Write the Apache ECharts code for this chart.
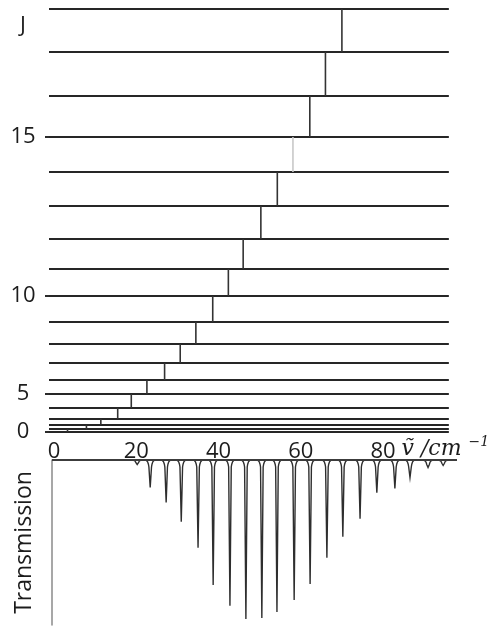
<!DOCTYPE html>
<html>
<head>
<meta charset="utf-8">
<script src="https://cdn.jsdelivr.net/npm/echarts@6/dist/echarts.min.js"></script>
<style>
html,body{margin:0;padding:0;background:#ffffff;}
#chart{width:494px;height:640px;}
</style>
</head>
<body>
<div id="chart"></div>
<script>
// Rotational energy levels (cm^-1), J = 0..18
const levelEnergies = [0, 4.5, 11.5, 20.5, 37.5, 59, 80.7, 107, 136.6, 170.7, 211, 253, 299.5, 350.8, 403.5, 458, 521.5, 590, 656.5];
// Transition wavenumbers J -> J+1 (cm^-1)
const transitionNu = [3.3, 7.9, 11.4, 15.5, 18.8, 22.6, 26.9, 30.7, 34.5, 38.6, 42.4, 46.0, 50.3, 54.3, 58.1, 62.2, 66.0, 70.0];
// Absorption lines of the spectrum
const peakNu = [19.8, 22.9, 26.7, 30.3, 34.3, 37.9, 41.9, 45.7, 49.5, 53.1, 57.2, 61.0, 65.0, 68.8, 72.9, 76.9, 81.2, 84.8, 89.1, 92.7];
const peakTransmission = [97.3, 83.3, 74.2, 62.6, 46.8, 24.3, 11.6, 3.6, 4.3, 7.9, 15.2, 24.9, 40.7, 53.5, 64.4, 80.2, 82.7, 89.4, 95.4, 96.7];
// Axis ticks
const xTickValues = [0, 20, 40, 60, 80];
const yTickJ = [0, 5, 10, 15];
const yTopLabelValue = 630;
const yTopLabel = 'J';
const baselineTransmission = 100;

const chart = echarts.init(document.getElementById('chart'), null, {renderer: 'canvas'});
const ink = '#1c1c1c';
const sans = 'Open Sans';

const yLabelValues = yTickJ.map(j => levelEnergies[j]).concat([yTopLabelValue]);
const yLabelTexts = yTickJ.map(String).concat([yTopLabel]);

const option = {
  backgroundColor: '#ffffff',
  animation: false,
  grid: [
    {left: 49, top: 1, width: 408, height: 431},
    {left: 52, top: 460, width: 405, height: 165}
  ],
  xAxis: [
    {
      gridIndex: 0, type: 'value', min: -1.2, max: 96,
      axisLine: {show: false, onZero: false},
      axisTick: {show: false},
      splitLine: {show: false},
      axisLabel: {customValues: xTickValues, fontSize: 22, fontFamily: sans, color: ink, margin: 9},
      name: '{v|ṽ /cm} {s|−1}{z| }',
      nameLocation: 'end',
      nameGap: -50,
      nameTextStyle: {
        fontFamily: 'DejaVu Serif', fontStyle: 'italic', fontSize: 22, color: ink,
        align: 'left', verticalAlign: 'top', padding: [3, 0, 0, 0],
        rich: {
          v: {fontFamily: 'DejaVu Serif', fontStyle: 'italic', fontSize: 22, color: ink, verticalAlign: 'bottom'},
          s: {fontFamily: 'DejaVu Serif', fontSize: 14, color: ink, verticalAlign: 'top'},
          z: {fontSize: 10, lineHeight: 25}
        }
      }
    },
    {
      gridIndex: 1, type: 'value', min: -0.5, max: 96, show: false
    }
  ],
  yAxis: [
    {
      gridIndex: 0, type: 'value', min: 0, max: 669,
      axisLine: {show: false, onZero: false},
      splitLine: {show: false},
      axisTick: {show: true, customValues: yTickJ.map(j => levelEnergies[j]), length: 4, lineStyle: {color: '#2b2b2b', width: 2}},
      axisLabel: {
        customValues: yLabelValues,
        formatter: function (v) {
          const i = yLabelValues.findIndex(t => Math.abs(t - v) < 1e-6);
          return i >= 0 ? yLabelTexts[i] : '';
        },
        align: 'center', margin: 26, fontSize: 22, fontFamily: sans, color: ink
      }
    },
    {
      gridIndex: 1, type: 'value', min: 0, max: 100,
      axisLine: {show: true, onZero: false, lineStyle: {color: '#8a8a8a', width: 1.5}},
      axisTick: {show: false},
      axisLabel: {show: false},
      splitLine: {show: false},
      name: 'Transmission', nameLocation: 'middle', nameRotate: 90, nameGap: 16,
      nameTextStyle: {fontSize: 23, fontFamily: sans, color: ink}
    }
  ],
  series: [
    {
      type: 'custom', name: 'levels', xAxisIndex: 0, yAxisIndex: 0,
      data: levelEnergies.map(e => [0, e]),
      encode: {x: 0, y: 1},
      renderItem: function (params, api) {
        const cs = params.coordSys;
        const y = Math.round(api.coord([0, api.value(1)])[1]);
        return {type: 'line', shape: {x1: cs.x, y1: y, x2: cs.x + cs.width, y2: y},
          style: {stroke: '#262626', lineWidth: 2}};
      }
    },
    {
      type: 'custom', name: 'transitions', xAxisIndex: 0, yAxisIndex: 0,
      data: transitionNu.map((nu, j) => [nu, levelEnergies[j], levelEnergies[j + 1]]),
      encode: {x: 0, y: [1, 2]},
      renderItem: function (params, api) {
        const lo = api.coord([api.value(0), api.value(1)]);
        const hi = api.coord([api.value(0), api.value(2)]);
        const faint = params.dataIndex === 14;
        return {type: 'line', shape: {x1: lo[0], y1: lo[1], x2: hi[0], y2: hi[1]},
          style: {stroke: faint ? '#c8c8c8' : '#333333', lineWidth: 1.6}};
      }
    },
    {
      type: 'line', name: 'baseline', xAxisIndex: 1, yAxisIndex: 1,
      data: [[-0.5, baselineTransmission], [96, baselineTransmission]],
      symbol: 'none', lineStyle: {color: '#3c3c3c', width: 2}
    },
    {
      type: 'custom', name: 'spectrum', xAxisIndex: 1, yAxisIndex: 1,
      data: peakNu.map((nu, i) => [nu, peakTransmission[i]]),
      encode: {x: 0, y: 1},
      renderItem: function (params, api) {
        const base = api.coord([api.value(0), baselineTransmission]);
        const tip = api.coord([api.value(0), api.value(1)]);
        const x = base[0], y0 = base[1], yt = tip[1];
        const depth = yt - y0;
        const d = Math.min(7, depth * 0.6);
        const w = 6.5;
        const pts = [
          [x - w, y0], [x - 4, y0 + 0.3], [x - 2.6, y0 + d * 0.25], [x - 1.8, y0 + d * 0.6], [x - 1.3, y0 + d],
          [x, yt],
          [x + 1.3, y0 + d], [x + 1.8, y0 + d * 0.6], [x + 2.6, y0 + d * 0.25], [x + 4, y0 + 0.3], [x + w, y0]
        ];
        return {type: 'polyline', shape: {points: pts},
          style: {stroke: '#2e2e2e', lineWidth: 1.4, fill: null}};
      }
    }
  ]
};
chart.setOption(option);
</script>
</body>
</html>
